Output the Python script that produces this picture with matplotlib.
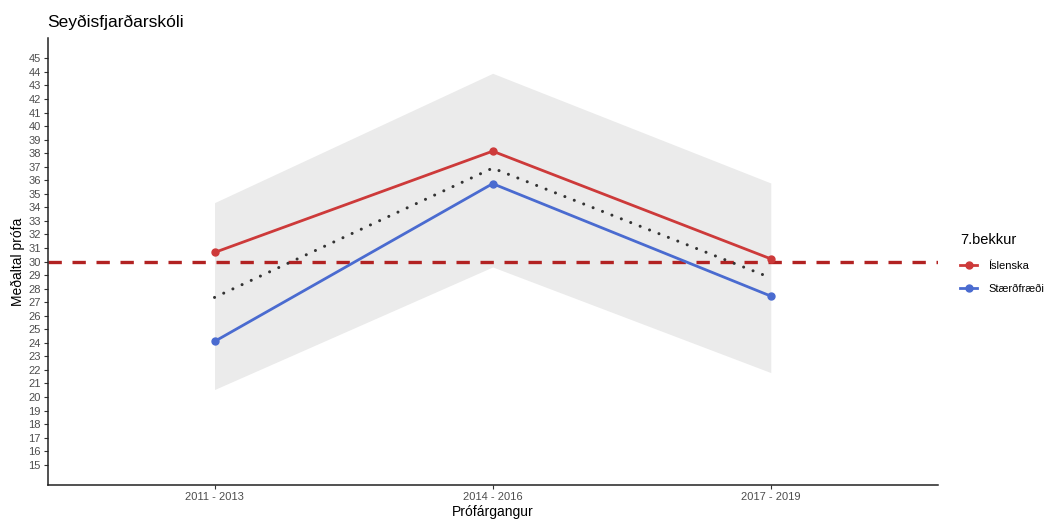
import matplotlib.pyplot as plt
import matplotlib.lines as mlines

plt.rcParams["font.family"] = ["Liberation Sans", "DejaVu Sans"]

# data
years = ["2011 - 2013", "2014 - 2016", "2017 - 2019"]
islenska = [30.67, 38.15, 30.2]
staerdfraedi = [24.1, 35.75, 27.45]
medaltal = [27.35, 36.9, 28.8]
band_low = [20.55, 29.6, 21.8]
band_high = [34.35, 43.9, 35.8]
vidmid = 30

red = "#CD3A3A"
blue = "#4A6BD0"

fig = plt.figure(figsize=(10.5, 5.29), dpi=100)
ax = fig.add_axes([0.0454, 0.0832, 0.8476, 0.8448])

x = [1, 2, 3]
ax.fill_between(x, band_low, band_high, color="#EBEBEB", lw=0, zorder=1)
ax.axhline(vidmid, color="#B22222", lw=2.4, ls=(0, (4, 3.2)), zorder=2)
ax.plot(x, medaltal, color="#333333", lw=2.2, ls=(0, (0.01, 3.3)),
        dash_capstyle="round", zorder=3)
ax.plot(x, islenska, color=red, lw=2, marker="o", ms=5, zorder=4)
ax.plot(x, staerdfraedi, color=blue, lw=2, marker="o", ms=5, zorder=4)

ax.set_xlim(0.4, 3.6)
ax.set_ylim(13.5, 46.5)
ax.set_xticks(x)
ax.set_xticklabels(years)
ax.set_yticks(range(15, 46))
ax.tick_params(axis="both", labelsize=8, labelcolor="#4D4D4D", length=3,
               width=0.8, pad=2, color="#333333")
for s in ["top", "right"]:
    ax.spines[s].set_visible(False)
for s in ["left", "bottom"]:
    ax.spines[s].set_linewidth(1.1)
    ax.spines[s].set_color("#222222")

ax.set_xlabel("Prófárgangur", fontsize=10, labelpad=2)
ax.set_ylabel("Meðaltal prófa", fontsize=10, labelpad=2)
fig.text(0.0454, 0.958, "Seyðisfjarðarskóli", fontsize=12.5, va="center")

h1 = mlines.Line2D([], [], color=red, lw=2, marker="o", ms=5)
h2 = mlines.Line2D([], [], color=blue, lw=2, marker="o", ms=5)
leg = fig.legend([h1, h2], ["Íslenska", "Stærðfræði"], title="7.bekkur",
                 loc="upper left", bbox_to_anchor=(0.905, 0.578), frameon=False,
                 fontsize=8, title_fontsize=10.5, handlelength=1.5,
                 handletextpad=1.0, labelspacing=1.2)
leg._legend_box.align = "left"

fig.savefig("out.png", dpi=100)
